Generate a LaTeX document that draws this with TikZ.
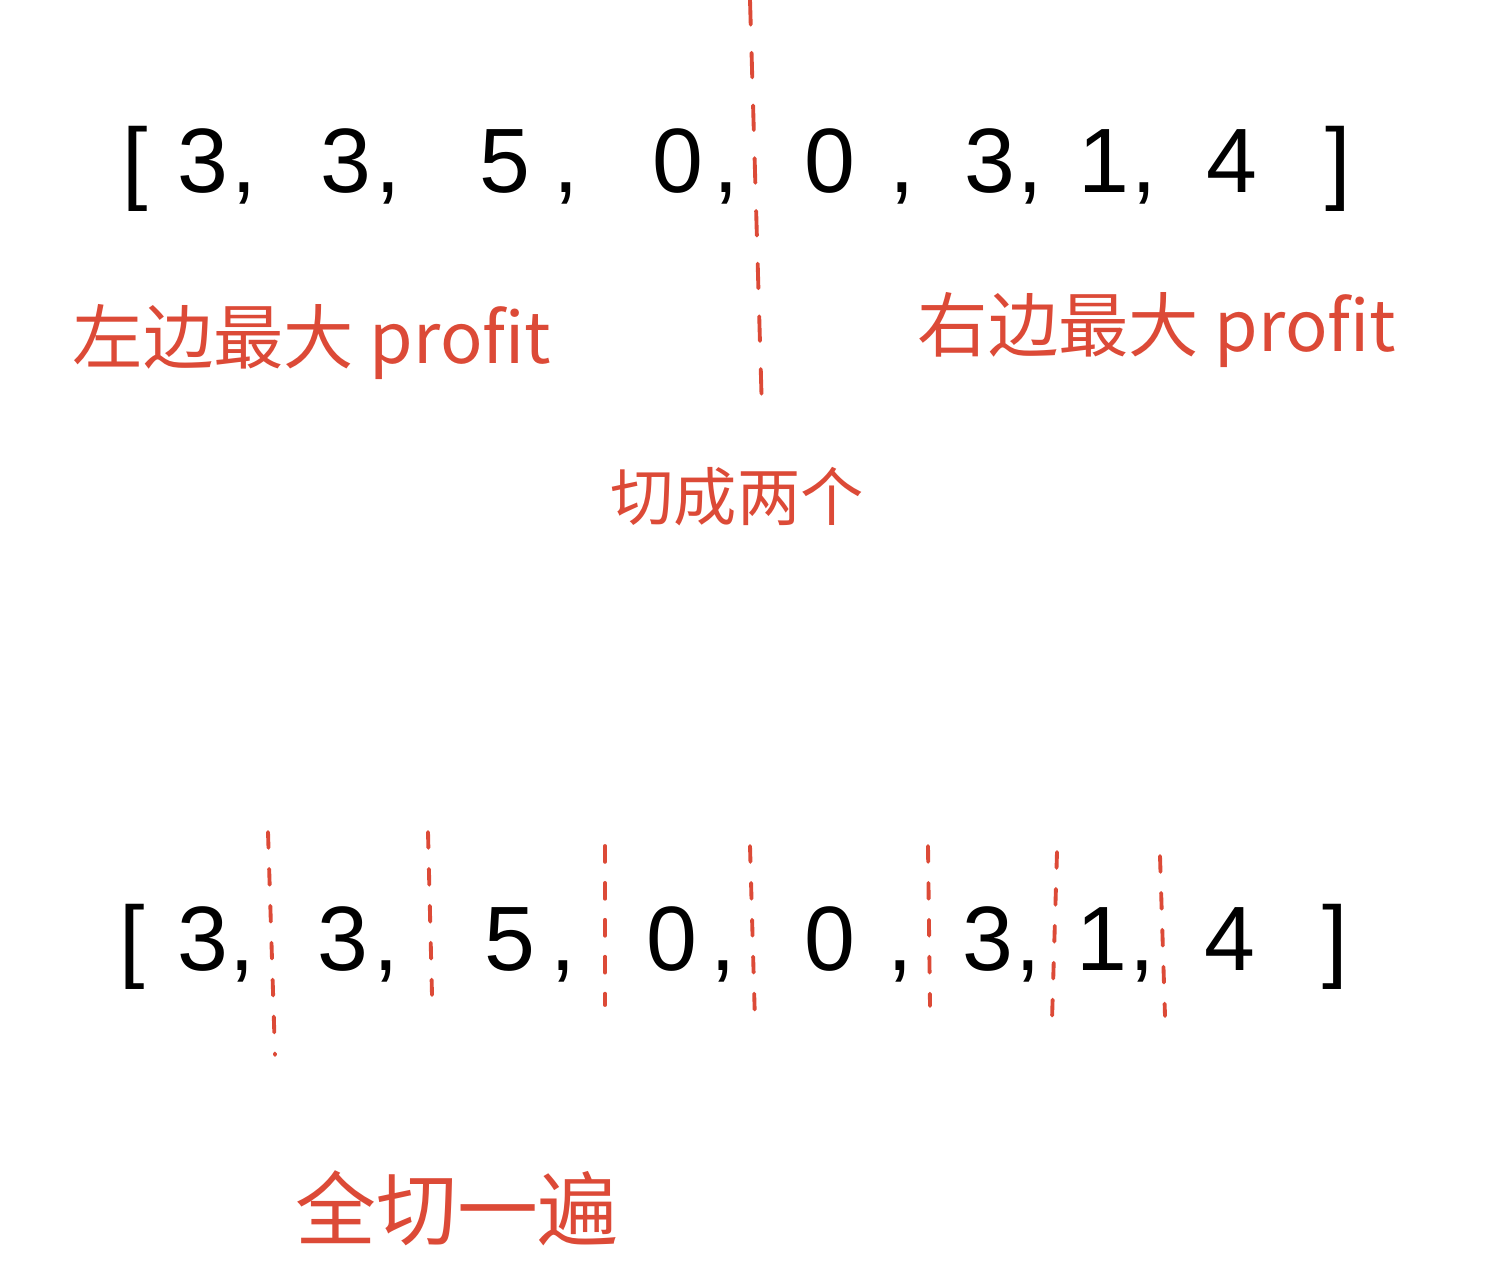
\documentclass[tikz,border=0pt]{standalone}
\usepackage{fontspec}
\setmainfont{Liberation Sans}
\newfontfamily\cjk{Noto Sans CJK SC}
\usetikzlibrary{positioning}
\definecolor{skInk}{HTML}{000000}
\definecolor{skRed}{HTML}{DC4A37}
\tikzset{
  digit/.style={anchor=base,inner sep=0pt,text=skInk,font=\fontsize{26}{30}\selectfont},
  note/.style={inner sep=0pt,text=skRed},
  cutline/.style={draw=skRed,line width=1.1pt,line cap=round,dash pattern=on 7pt off 8pt},
  cutshort/.style={draw=skRed,line width=1.1pt,line cap=round,dash pattern=on 4.5pt off 6pt}
}
\begin{document}
\begin{tikzpicture}[x=0.01cm,y=-0.01cm]
  \useasboundingbox (0,0) rectangle (1503,1261);

  % top array
  \node[digit] (tl) at (135,193) {[};
  \foreach \x/\d [count=\i] in {203/3,346/3,505/5,678/0,830/0,990/3,1104/1,1232/4}
    \node[digit] (t\i) at (\x,193) {\d};
  \foreach \x [count=\i] in {244,388,566,726,902,1030,1144}
    \node[digit] (tc\i) at (\x,193) {,};
  \node[digit] (tr) at (1338,193) {]};

  % one cut in the middle
  \coordinate (cutA) at (750,0);
  \coordinate (cutB) at (762,412);
  \draw[cutline] (cutA) -- (cutB);

  \node[note,font=\cjk\fontsize{20}{24}\selectfont] (left) at (312,342) {左边最大 profit};
  \node[note,font=\cjk\fontsize{20}{24}\selectfont] (right) at (1157,330) {右边最大 profit};
  \node[note,font=\cjk\fontsize{18}{22}\selectfont] (two) at (737,497) {切成两个};

  % bottom array
  \node[digit] (bl) at (132,970) {[};
  \foreach \x/\d [count=\i] in {203/3,343/3,510/5,672/0,830/0,988/3,1102/1,1230/4}
    \node[digit] (b\i) at (\x,970) {\d};
  \foreach \x [count=\i] in {242,386,563,723,900,1028,1142}
    \node[digit] (bc\i) at (\x,970) {,};
  \node[digit] (br) at (1335,970) {]};

  % every cut
  \foreach \xa/\ya/\xb/\yb [count=\i] in {268/832/275/1055,428/832/432/995,605/846/605/1005,750/846/755/1022,928/846/930/1006,1057/852/1052/1020,1160/856/1165/1016}{
    \coordinate (c\i a) at (\xa,\ya);
    \coordinate (c\i b) at (\xb,\yb);
    \draw[cutshort] (c\i a) -- (c\i b);
  }

  \node[note,font=\cjk\fontsize{23}{27}\selectfont] (all) at (457,1208) {全切一遍};
\end{tikzpicture}
\end{document}
